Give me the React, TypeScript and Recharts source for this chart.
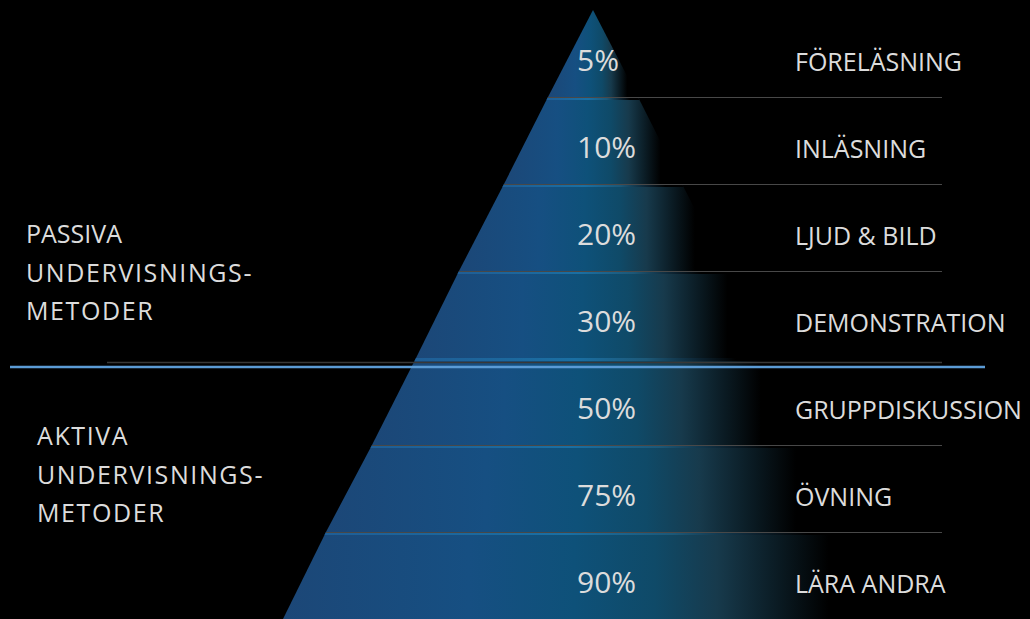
import React from "react";
import { FunnelChart, Funnel } from "recharts";

// top to bottom
const methods = [
  "FÖRELÄSNING",
  "INLÄSNING",
  "LJUD & BILD",
  "DEMONSTRATION",
  "GRUPPDISKUSSION",
  "ÖVNING",
  "LÄRA ANDRA",
];
const retention = ["5%", "10%", "20%", "30%", "50%", "75%", "90%"];
const groups = ["passiva", "passiva", "passiva", "passiva", "aktiva", "aktiva", "aktiva"];
// width of each band's lower edge (px in the picture)
const bandWidth = [90, 178, 268, 354, 442, 534, 620];

const passivaLines = ["PASSIVA", "UNDERVISNINGS-", "METODER"];
const aktivaLines = ["AKTIVA", "UNDERVISNINGS-", "METODER"];

// funnel draws reversed, so bottom band goes first
const data = methods
  .map((name, i) => ({
    name,
    pct: retention[i],
    width: bandWidth[i],
    newGroup: i > 0 && groups[i] !== groups[i - 1],
  }))
  .reverse();

const CHART_LEFT = 283;
const CHART_TOP = 10;
const TEXT = "#dcdcdc";
const FONT = "'Open Sans', 'Noto Sans', sans-serif";

function Band(props: any) {
  const { x, y, upperWidth, lowerWidth, height } = props;
  const p = props.payload && props.payload.name ? props.payload : props;
  const gap = (upperWidth - lowerWidth) / 2;
  const d = `M${x},${y} L${x + upperWidth},${y} L${x + upperWidth - gap},${y + height} L${x + gap},${y + height} Z`;
  const hs = 3;
  const hg = (gap * hs) / height;
  const hl = `M${x},${y} L${x + upperWidth},${y} L${x + upperWidth - hg},${y + hs} L${x + hg},${y + hs} Z`;
  const cx = x + upperWidth / 2;
  const base = y + height / 2 + 17;
  return (
    <g>
      <path d={d} fill="url(#bandFill)" />
      {upperWidth > 0 && <path d={hl} fill="url(#bandEdge)" />}
      {upperWidth > 0 && !p.newGroup && (
        <line x1={x} y1={y + 0.5} x2={942 - CHART_LEFT} y2={y + 0.5} stroke="#484848" strokeWidth={1} />
      )}
      <text x={cx - 16} y={base} fill={TEXT} fontSize={30} fontFamily={FONT}>
        {p.pct}
      </text>
      <text x={cx + 202} y={base} fill={TEXT} fontSize={25} fontFamily={FONT}>
        {p.name}
      </text>
    </g>
  );
}

export default function App() {
  return (
    <div
      style={{
        position: "absolute",
        left: 0,
        top: 0,
        width: 1030,
        height: 619,
        background: "#000",
        overflow: "hidden",
      }}
    >
      <style>{".recharts-surface{overflow:visible}"}</style>
      <div style={{ position: "absolute", left: CHART_LEFT, top: CHART_TOP }}>
        <FunnelChart width={620} height={609} margin={{ top: 0, right: 0, bottom: 0, left: 0 }}>
          <defs>
            <linearGradient id="bandFill" x1="0" y1="0" x2="1" y2="0">
              <stop offset="0" stopColor="#1c4777" />
              <stop offset="0.3" stopColor="#164f82" />
              <stop offset="0.47" stopColor="#0e5179" />
              <stop offset="0.6" stopColor="#0f4a68" />
              <stop offset="0.7" stopColor="#173a4c" />
              <stop offset="0.8" stopColor="#0a1a22" />
              <stop offset="0.88" stopColor="#000000" />
            </linearGradient>
            <linearGradient id="bandEdge" x1="0" y1="0" x2="1" y2="0">
              <stop offset="0" stopColor="#1f5e96" />
              <stop offset="0.45" stopColor="#1a6fa3" />
              <stop offset="0.65" stopColor="#1c5878" />
              <stop offset="0.8" stopColor="#0c2230" />
              <stop offset="0.9" stopColor="#000000" />
            </linearGradient>
          </defs>
          <Funnel
            data={data}
            dataKey="width"
            nameKey="name"
            reversed
            stroke="none"
            shape={Band}
            isAnimationActive={false}
          />
        </FunnelChart>
      </div>
      <svg
        width={1030}
        height={619}
        style={{ position: "absolute", left: 0, top: 0, pointerEvents: "none" }}
      >
        <line x1={107} y1={362.5} x2={942} y2={362.5} stroke="#383838" strokeWidth={1.5} />
        <line x1={10} y1={367} x2={985} y2={367} stroke="#5b9bd5" strokeWidth={2.5} />
        {passivaLines.map((t, i) => (
          <text
            key={"p" + i}
            x={26}
            y={243 + i * 38.5}
            fill={TEXT}
            fontSize={25}
            fontFamily={FONT}
            letterSpacing={i === 0 ? 0 : 1.6}
          >
            {t}
          </text>
        ))}
        {aktivaLines.map((t, i) => (
          <text
            key={"a" + i}
            x={37}
            y={445 + i * 38.5}
            fill={TEXT}
            fontSize={25}
            fontFamily={FONT}
            letterSpacing={1.6}
          >
            {t}
          </text>
        ))}
      </svg>
    </div>
  );
}
